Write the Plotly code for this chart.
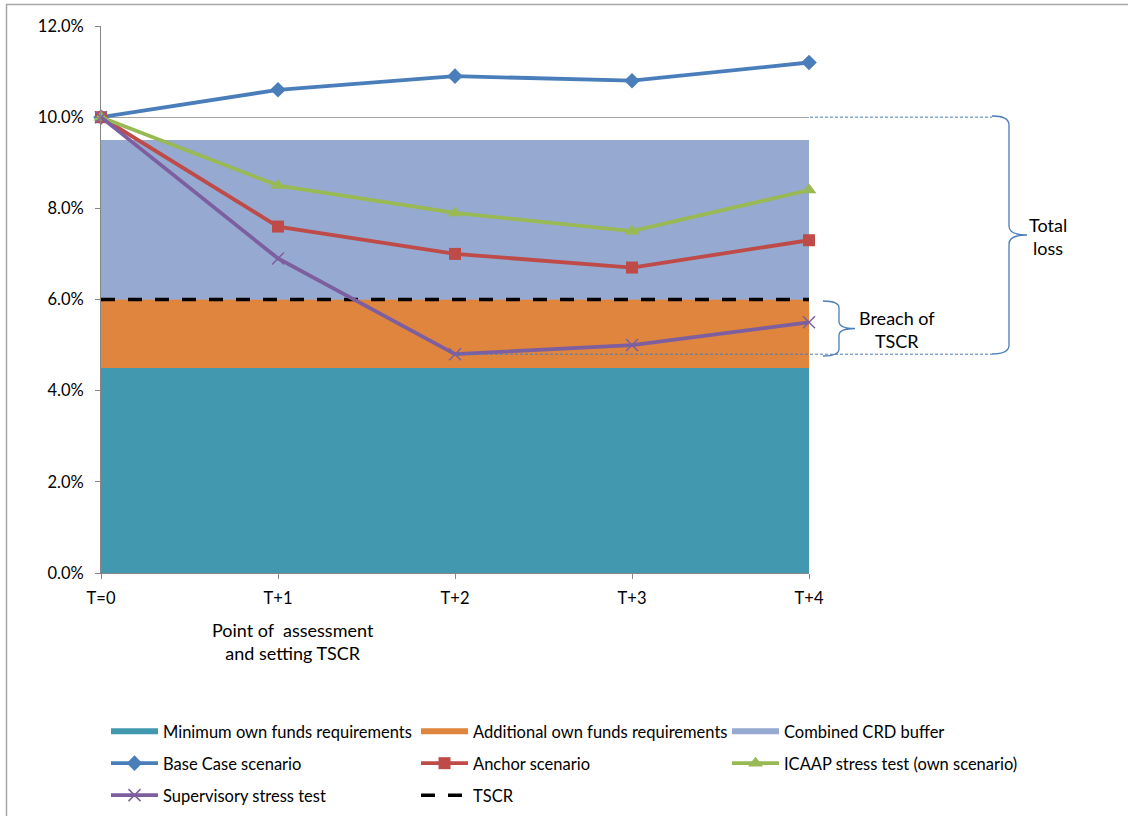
import plotly.graph_objects as go

periods = ["T=0", "T+1", "T+2", "T+3", "T+4"]
xpos = [0, 1, 2, 3, 4]

min_own_funds = [4.5, 4.5, 4.5, 4.5, 4.5]
additional_own_funds = [1.5, 1.5, 1.5, 1.5, 1.5]
combined_buffer = [3.5, 3.5, 3.5, 3.5, 3.5]

base_case = [10.0, 10.6, 10.9, 10.8, 11.2]
anchor = [10.0, 7.6, 7.0, 6.7, 7.3]
icaap = [10.0, 8.5, 7.9, 7.5, 8.4]
supervisory = [10.0, 6.9, 4.8, 5.0, 5.5]
tscr = [6.0, 6.0, 6.0, 6.0, 6.0]

y_ticks = [0, 2, 4, 6, 8, 10, 12]
y_ticklabels = ["0.0%", "2.0%", "4.0%", "6.0%", "8.0%", "10.0%", "12.0%"]

FONT = "Lato"

# plot area in pixels
L, R, T, B = 101, 809, 26, 573
W_PX, H_PX = 1128, 816


def px(xp):
    return (xp - L) / (R - L)


def py(yp):
    return (B - yp) / (B - T)


def yval(v):
    # data value -> paper y
    return v / 12.0


fig = go.Figure()

area_specs = [
    ("Minimum own funds requirements", min_own_funds, "#4298AF", "legend", 1),
    ("Additional own funds requirements", additional_own_funds, "#DF853E", "legend2", 1),
    ("Combined CRD buffer", combined_buffer, "#95A9D1", "legend3", 1),
]
for name, vals, col, lg, rank in area_specs:
    fig.add_trace(go.Scatter(
        x=xpos, y=vals, name=name, stackgroup="req", mode="none",
        fillcolor=col, line=dict(width=0), legend=lg, legendrank=rank,
        legendgroup=name, hoverinfo="skip"))

fig.add_trace(go.Scatter(
    x=xpos, y=tscr, name="TSCR", mode="lines",
    line=dict(color="black", width=3.5, dash="14px,13px"),
    legend="legend2", legendrank=3, legendgroup="TSCR"))

line_specs = [
    ("Base Case scenario", base_case, "#4A7EBB", "diamond", 12, "legend", 2),
    ("Anchor scenario", anchor, "#BE4B48", "square", 12, "legend2", 2),
    ("ICAAP stress test (own scenario)", icaap, "#98B954", "triangle-up", 13, "legend3", 2),
]
for name, vals, col, sym, size, lg, rank in line_specs:
    fig.add_trace(go.Scatter(
        x=xpos, y=vals, name=name, mode="lines+markers",
        line=dict(color=col, width=3.8),
        marker=dict(symbol=sym, size=size, color=col),
        legend=lg, legendrank=rank, legendgroup=name, cliponaxis=False))

fig.add_trace(go.Scatter(
    x=xpos, y=supervisory, name="Supervisory stress test", mode="lines+markers",
    line=dict(color="#7D5FA0", width=3.8),
    marker=dict(symbol="x-thin", size=12, color="#7D5FA0",
                line=dict(color="#7D5FA0", width=1.5)),
    legend="legend", legendrank=3, legendgroup="Supervisory", cliponaxis=False))

shapes = []
# outer border
shapes.append(dict(type="rect", xref="paper", yref="paper",
                   x0=px(6.5), x1=px(1200), y0=py(4.5), y1=py(900),
                   line=dict(color="#A6A6A6", width=1.5), layer="below"))

dash_col = "#4A7EBB"
# dashed guide lines
shapes.append(dict(type="line", xref="paper", yref="paper",
                   x0=px(810), x1=px(992), y0=yval(base_case[0]), y1=yval(base_case[0]),
                   line=dict(color=dash_col, width=1, dash="3px,2px")))
shapes.append(dict(type="line", xref="paper", yref="paper",
                   x0=xpos[2] / 4, x1=px(992), y0=yval(min(supervisory)), y1=yval(min(supervisory)),
                   line=dict(color=dash_col, width=1, dash="3px,2px")))


def brace(x_open, x_mid, x_tip, y_top, y_bot, r=9):
    y_c = (y_top + y_bot) / 2
    pts = [
        ("M", [(x_open, y_top)]),
        ("Q", [(x_mid, y_top), (x_mid, y_top + r)]),
        ("L", [(x_mid, y_c - r)]),
        ("Q", [(x_mid, y_c), (x_tip, y_c)]),
        ("Q", [(x_mid, y_c), (x_mid, y_c + r)]),
        ("L", [(x_mid, y_bot - r)]),
        ("Q", [(x_mid, y_bot), (x_open, y_bot)]),
    ]
    s = ""
    for cmd, pl in pts:
        s += cmd + " " + " ".join(f"{px(a):.5f},{py(b):.5f}" for a, b in pl) + " "
    return s.strip()


shapes.append(dict(type="path", xref="paper", yref="paper",
                   path=brace(992, 1009, 1027, 116, 354),
                   line=dict(color="#4A7EBB", width=1.3)))
shapes.append(dict(type="path", xref="paper", yref="paper",
                   path=brace(823, 839, 855, 301, 356, r=7),
                   line=dict(color="#4A7EBB", width=1.3)))

ann_font = dict(family=FONT, size=18, color="black")
annotations = [
    dict(text="Total<br>loss", xref="paper", yref="paper", x=px(1048), y=py(236),
         xanchor="center", yanchor="middle",
         showarrow=False, font=ann_font, align="center"),
    dict(text="Breach of<br>TSCR", xref="paper", yref="paper", x=px(897), y=py(329),
         xanchor="center", yanchor="middle",
         showarrow=False, font=ann_font, align="center"),
    dict(text="Point of  assessment<br>and setting TSCR", xref="paper", yref="paper",
         x=px(293), y=py(641), xanchor="center", yanchor="middle", showarrow=False,
         font=ann_font, align="center"),
]

legend_common = dict(orientation="v", font=dict(family=FONT, size=16.5, color="black"),
                     bgcolor="rgba(0,0,0,0)", itemwidth=47, tracegroupgap=7.5,
                     xanchor="left", yanchor="top", traceorder="grouped",
                     itemclick=False, itemdoubleclick=False)

tick_font = dict(family=FONT, size=16.5, color="black")

LEG_TOP = 714

fig.update_layout(
    width=W_PX, height=H_PX,
    margin=dict(l=L, r=W_PX - R, t=T, b=H_PX - B, pad=0, autoexpand=False),
    paper_bgcolor="white", plot_bgcolor="white",
    font=dict(family=FONT, size=16, color="black"),
    xaxis=dict(range=[0, 4], tickvals=xpos, ticktext=periods, showgrid=False,
               zeroline=False, showline=True, linecolor="#868686", linewidth=1,
               ticks="outside", ticklen=5, tickcolor="#868686",
               tickfont=tick_font, ticklabelstandoff=5),
    yaxis=dict(range=[0, 12], tickvals=y_ticks, ticktext=y_ticklabels, showgrid=True,
               gridcolor="#A6A6A6", gridwidth=1, zeroline=False, showline=True,
               linecolor="#868686", linewidth=1, ticks="outside", ticklen=5,
               tickcolor="#868686", tickfont=tick_font, ticklabelstandoff=8),
    shapes=shapes,
    annotations=annotations,
    showlegend=True,
    legend=dict(x=px(106), y=py(LEG_TOP), **legend_common),
    legend2=dict(x=px(416), y=py(LEG_TOP), **legend_common),
    legend3=dict(x=px(727), y=py(LEG_TOP), **legend_common),
)

fig.write_html("out.html")
